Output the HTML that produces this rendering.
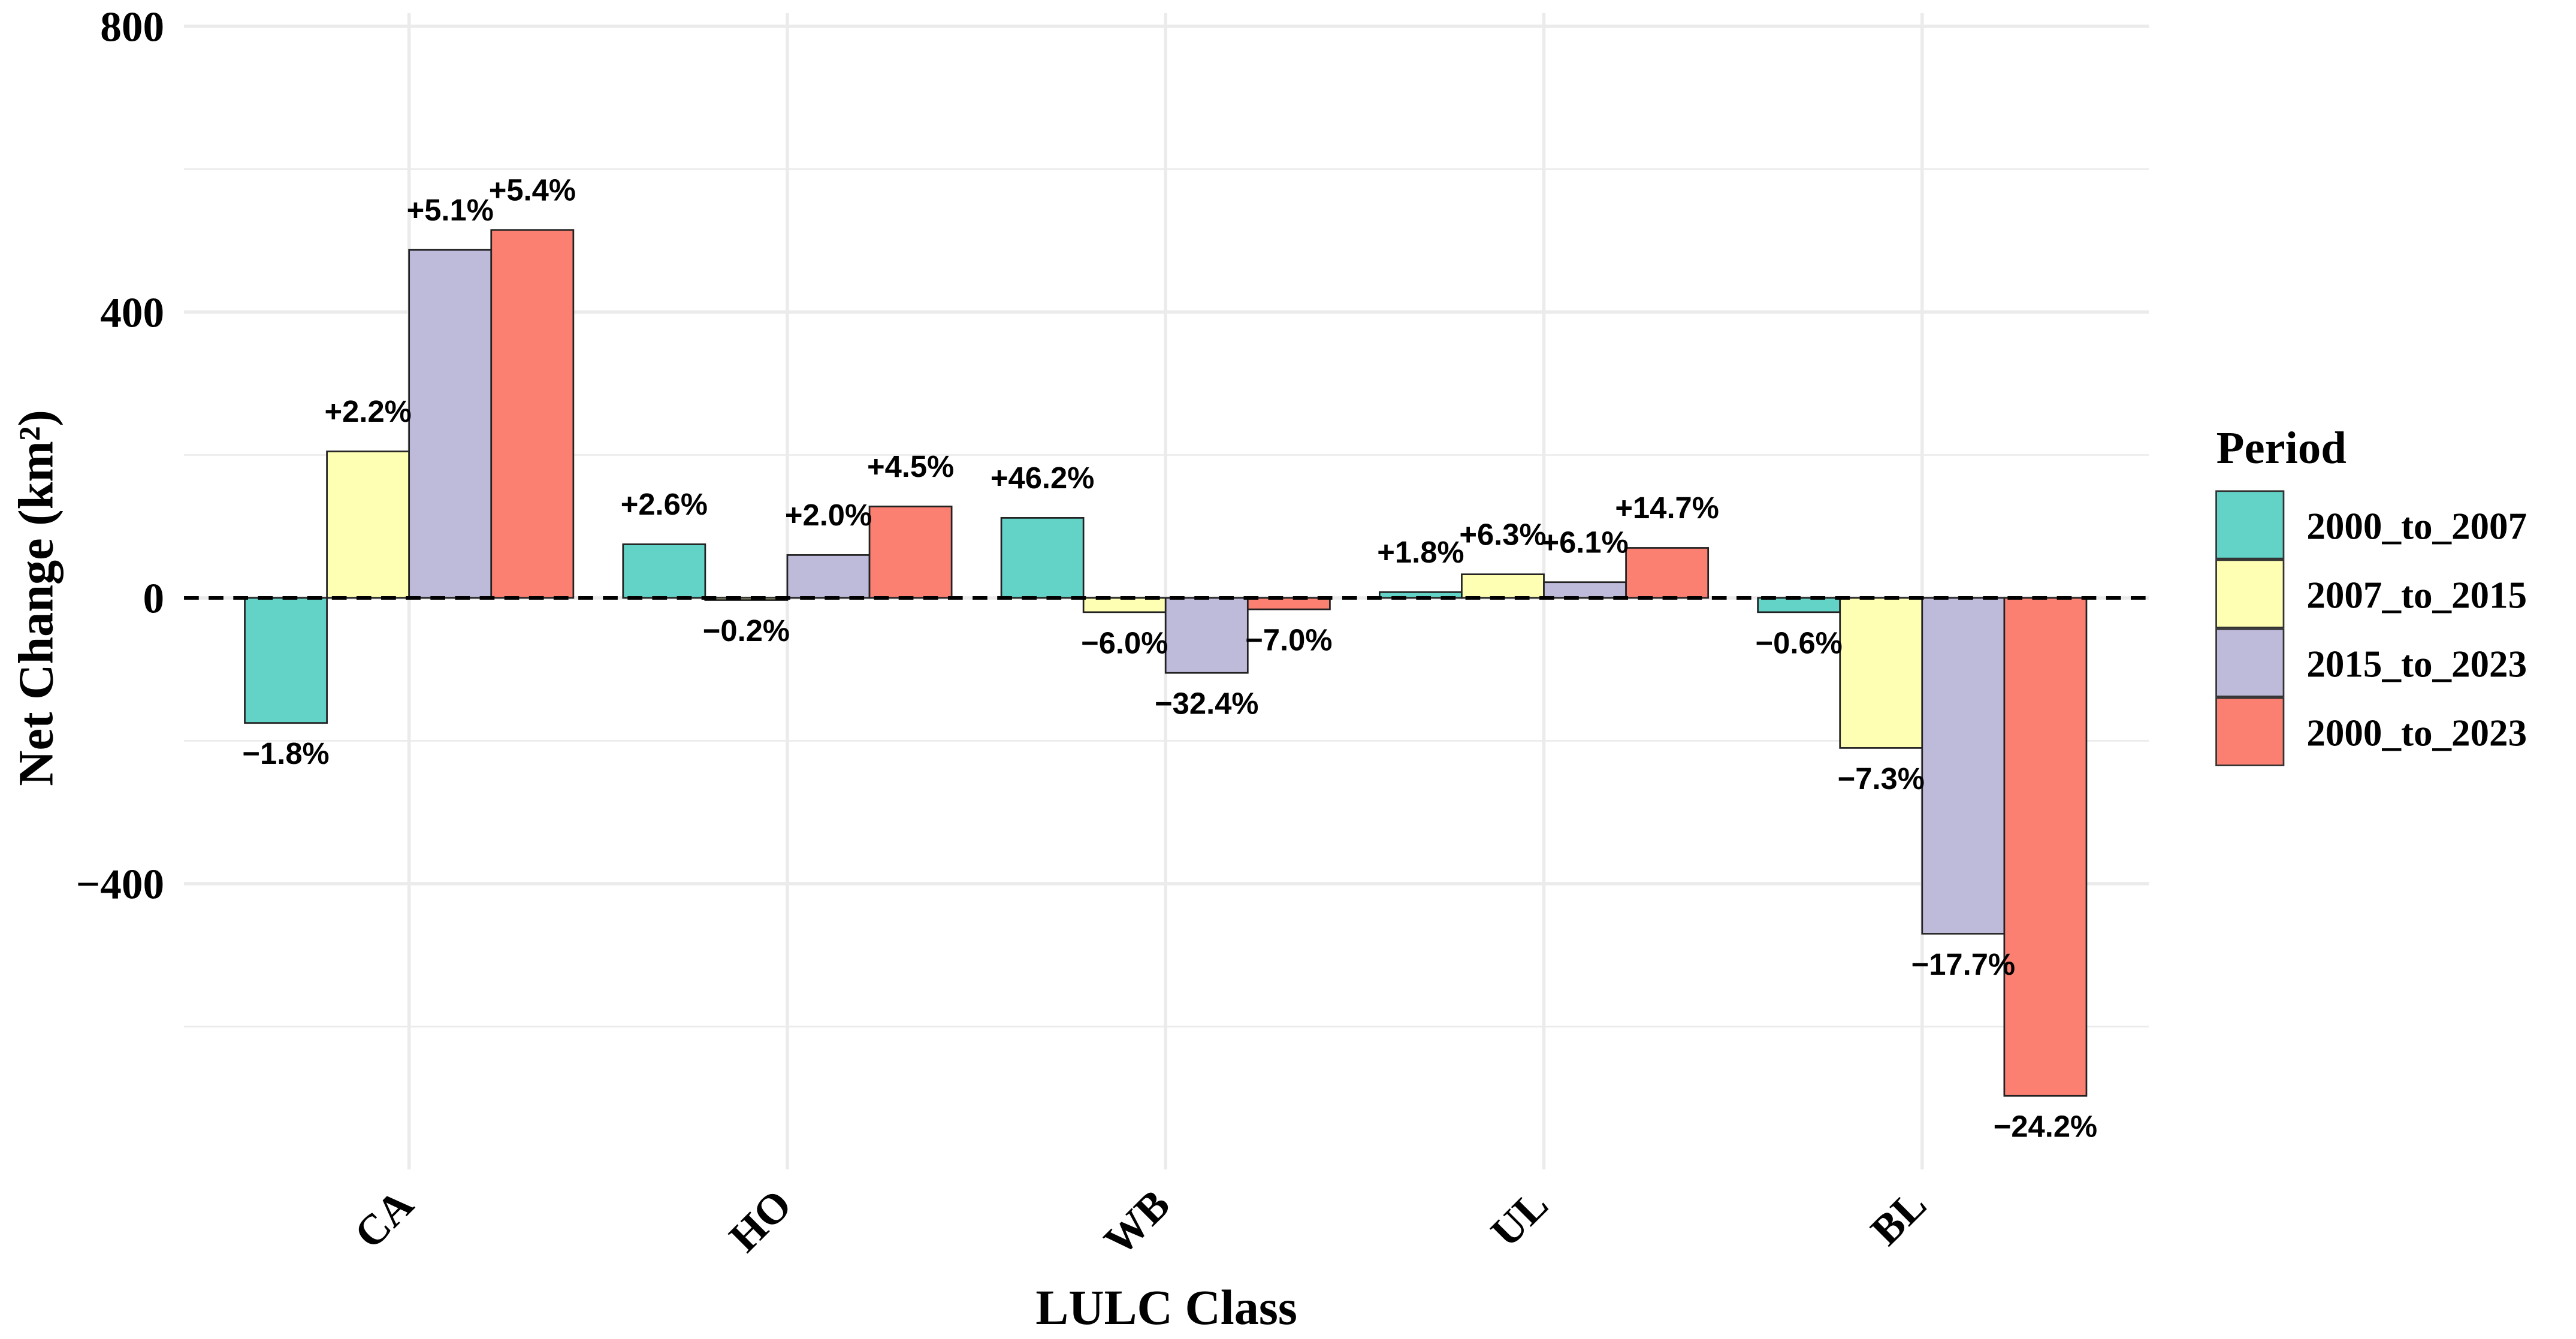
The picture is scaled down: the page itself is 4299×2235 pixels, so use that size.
<!DOCTYPE html>
<html><head><meta charset="utf-8"><style>
html,body{margin:0;padding:0;background:#fff;}
svg{display:block;}
</style></head><body>
<svg id="chart" width="4299" height="2235" viewBox="0 0 1568 815.2" preserveAspectRatio="none" xmlns="http://www.w3.org/2000/svg"></svg>
<script>
const categories = ["CA","HO","WB","UL","BL"];
const periods = ["2000_to_2007","2007_to_2015","2015_to_2023","2000_to_2023"];
const s2000_2007 = [-175, 75, 112, 8, -20];
const s2007_2015 = [205, -3, -20, 33, -210];
const s2015_2023 = [487, 60, -105, 22, -470];
const s2000_2023 = [515, 128, -16, 70, -697];
const pct2000_2007 = ["−1.8%","+2.6%","+46.2%","+1.8%","−0.6%"];
const pct2007_2015 = ["+2.2%","−0.2%","−6.0%","+6.3%","−7.3%"];
const pct2015_2023 = ["+5.1%","+2.0%","−32.4%","+6.1%","−17.7%"];
const pct2000_2023 = ["+5.4%","+4.5%","−7.0%","+14.7%","−24.2%"];
const yTicks = [800, 400, 0, -400];
const yMinor = [600, 200, -200, -600];
const colors = ["#62d3c6","#ffffb3","#bebada","#fb8072"];

const series = [s2000_2007, s2007_2015, s2015_2023, s2000_2023];
const pcts = [pct2000_2007, pct2007_2015, pct2015_2023, pct2000_2023];
const svg = document.getElementById('chart');
const NS = "http://www.w3.org/2000/svg";
const X0 = 112, X1 = 1308;
const y = v => 364 - v * 174 / 400;
const xc = i => 249 + i * 230.25;
const BW = 50;
function mk(tag, attrs, parent) {
  const e = document.createElementNS(NS, tag);
  for (const k in attrs) e.setAttribute(k, attrs[k]);
  (parent || svg).appendChild(e);
  return e;
}
yMinor.forEach(v => {
  const l = mk('line', {x1:X0, x2:X1, y1:y(v), y2:y(v), stroke:'#ebebeb', 'stroke-width':1});
  
  
});
yTicks.forEach(v => {
  const l = mk('line', {x1:X0, x2:X1, y1:y(v), y2:y(v), stroke:'#ebebeb', 'stroke-width':2});
  
  
  const t = mk('text', {x:100, y:y(v)+9, 'text-anchor':'end', 'font-family':'Liberation Serif, serif', 'font-weight':'bold', 'font-size':26, fill:'#000'});
  t.textContent = v < 0 ? '−' + Math.abs(v) : String(v);
  
  
});
categories.forEach((c, i) => {
  const l = mk('line', {x1:xc(i), x2:xc(i), y1:y(800)-8, y2:712, stroke:'#ebebeb', 'stroke-width':2});
  
  
});
series.forEach((s, p) => {
  s.forEach((v, i) => {
    const x = xc(i) - 100 + p * BW;
    const top = Math.min(y(v), y(0)), h = Math.abs(y(v) - y(0));
    const r = mk('rect', {x:x, y:top, width:BW, height:Math.max(h,0.5), fill:colors[p], stroke:'#222', 'stroke-width':1});
    
    
  });
});
const z = mk('line', {x1:X0, x2:X1, y1:y(0), y2:y(0), stroke:'#000', 'stroke-width':2.2, 'stroke-dasharray':'9,6'});


series.forEach((s, p) => {
  s.forEach((v, i) => {
    const x = xc(i) - 75 + p * BW;
    const ly = v >= 0 ? y(v) - 18 : y(v) + 25;
    const t = mk('text', {x:x, y:ly, 'text-anchor':'middle', 'font-family':'Liberation Sans, sans-serif', 'font-weight':'bold', 'font-size':18.5, fill:'#000'});
    t.textContent = pcts[p][i];
    
    
  });
});
categories.forEach((c, i) => {
  const t = mk('text', {x:xc(i)+4, y:735, 'text-anchor':'end', 'font-family':'Liberation Serif, serif', 'font-weight':'bold', 'font-size':26, fill:'#000', transform:`rotate(-45 ${xc(i)+4} 735)`});
  t.textContent = c;
  
  
});
let t = mk('text', {x:710, y:806, 'text-anchor':'middle', 'font-family':'Liberation Serif, serif', 'font-weight':'bold', 'font-size':30});
t.textContent = 'LULC Class';


t = mk('text', {x:32, y:364, 'text-anchor':'middle', 'font-family':'Liberation Serif, serif', 'font-weight':'bold', 'font-size':30, transform:'rotate(-90 32 364)'});
t.textContent = 'Net Change (km²)';


t = mk('text', {x:1349, y:282, 'font-family':'Liberation Serif, serif', 'font-weight':'bold', 'font-size':28});
t.textContent = 'Period';


periods.forEach((p, k) => {
  const ky = 299 + k * 42;
  const r = mk('rect', {x:1349, y:ky, width:41, height:41, fill:colors[k], stroke:'#333', 'stroke-width':1});
  
  
  const tt = mk('text', {x:1404, y:ky+29, 'font-family':'Liberation Serif, serif', 'font-weight':'bold', 'font-size':23});
  tt.textContent = p;
  
  
});
</script>
</body></html>
